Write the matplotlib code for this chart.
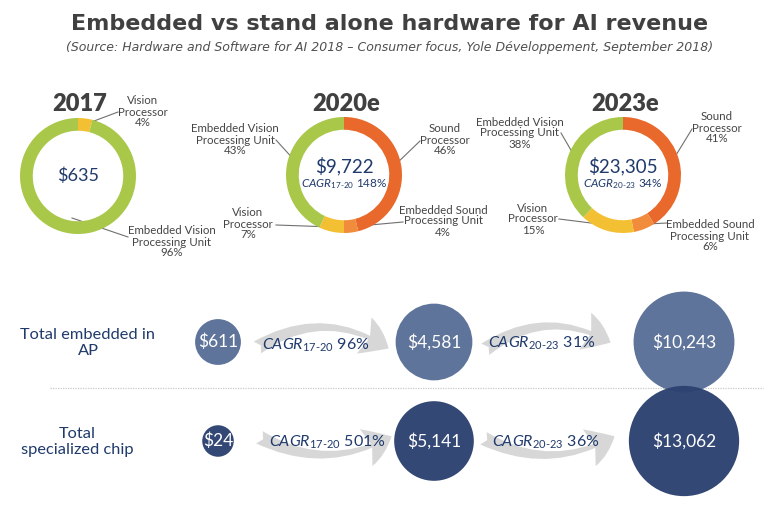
"""Embedded vs stand alone hardware for AI revenue (Yole, 2018)."""
import matplotlib

matplotlib.use("Agg")
import matplotlib.pyplot as plt
from matplotlib.patches import Circle, FancyArrowPatch

# ---- data ---------------------------------------------------------------
years = ["2017", "2020e", "2023e"]
totals = [635, 9722, 23305]
total_cagr = [None, 148, 34]
periods = ["17-20", "20-23"]

segments = [
    "Sound\nProcessor",
    "Embedded Sound\nProcessing Unit",
    "Vision\nProcessor",
    "Embedded Vision\nProcessing Unit",
]
share_2017 = [0, 0, 4, 96]
share_2020 = [46, 4, 7, 43]
share_2023 = [41, 6, 15, 38]
shares = [share_2017, share_2020, share_2023]

row_labels = ["Total embedded in\nAP", "Total\nspecialized chip"]
embedded_ap = [611, 4581, 10243]
specialized_chip = [24, 5141, 13062]
cagr_ap = [96, 31]
cagr_chip = [501, 36]

# ---- styling / layout (pixels, y down) ------------------------------------
W, H = 773, 508
seg_colors = ["#e8692b", "#f08c3c", "#f4c033", "#a9c84a"]
navy = "#1f3a6b"
row_colors = ["#5a6f97", "#2d4270"]
arrow_color = "#d7d7d7"
label_gray = "#454545"

donut_centers = [(78, 176), (344, 175), (623, 175)]
donut_r = 58
# per donut, per segment: (text x, text y, line start, line end)
donut_labels = [
    {2: (143, 112, (86, 124), (118, 112)),
     3: (172, 242, (72, 218), (128, 237))},
    {0: (445, 140, (394, 166), (420, 141)),
     1: (443, 221, (348, 227), (403, 222)),
     2: (248, 224, (333, 227), (276, 225)),
     3: (235, 140, (296, 162), (276, 140))},
    {0: (717, 128, (673, 160), (692, 129)),
     1: (710, 236, (647, 224), (667, 223)),
     2: (533, 219, (607, 225), (559, 219)),
     3: (520, 133, (575, 157), (561, 133))},
]

bubble_x = [218, 434, 684]
row_y = [342, 441]
row_label_pos = [(88, 343), (77, 442)]
arrows = [
    [((255, 349), (391, 350), -0.33), ((483, 351), (613, 344), -0.33)],
    [((257, 436), (394, 435), 0.28), ((481, 437), (617, 435), 0.28)],
]
cagr_text_pos = [[(316, 345), (542, 343)], [(327, 442), (546, 442)]]


def bubble_radius(value):
    return 14 + 0.36 * value ** 0.5


plt.rcParams["font.family"] = ["Lato", "DejaVu Sans"]
plt.rcParams["mathtext.fontset"] = "custom"
plt.rcParams["mathtext.it"] = "Lato:italic"
plt.rcParams["mathtext.rm"] = "Lato"
plt.rcParams["mathtext.default"] = "it"


def cagr_label(period, value):
    a, b = period.split("-")
    return rf"$CAGR_{{{a}\text{{-}}{b}}}$ {value}%"


fig = plt.figure(figsize=(W / 100, H / 100), dpi=100)
ax = fig.add_axes([0, 0, 1, 1])
ax.set_xlim(0, W)
ax.set_ylim(H, 0)
ax.axis("off")

# title
ax.text(W / 2 + 3, 24, "Embedded vs stand alone hardware for AI revenue",
        ha="center", va="center", fontsize=16, fontweight="bold",
        color="#404040", family="DejaVu Sans")
ax.text(W / 2 + 3, 48,
        "(Source: Hardware and Software for AI 2018 \u2013 Consumer focus, "
        "Yole D\u00e9veloppement, September 2018)",
        ha="center", va="center", fontsize=9, style="italic",
        color="#505050", family="DejaVu Sans")

# donuts
for i, (cx, cy) in enumerate(donut_centers):
    dax = fig.add_axes([(cx - donut_r) / W, 1 - (cy + donut_r) / H,
                        2 * donut_r / W, 2 * donut_r / H])
    vals = [v for v in shares[i] if v > 0]
    cols = [c for v, c in zip(shares[i], seg_colors) if v > 0]
    dax.pie(vals, colors=cols, startangle=90, counterclock=False, radius=1,
            wedgeprops=dict(width=0.22, linewidth=0))
    dax.set_xlim(-1, 1)
    dax.set_ylim(-1, 1)
    dax.axis("off")

    ax.text(cx + 2, 104, years[i], ha="center", va="center", fontsize=17,
            fontweight="heavy", color="#404040")
    if total_cagr[i] is None:
        ax.text(cx, cy, f"${totals[i]:,}", ha="center", va="center",
                fontsize=13, color=navy)
    else:
        ax.text(cx, cy - 9, f"${totals[i]:,}", ha="center", va="center",
                fontsize=13.5, color=navy)
        ax.text(cx, cy + 9, cagr_label(periods[i - 1], total_cagr[i]),
                ha="center", va="center", fontsize=8.5, color=navy)
    for seg, (tx, ty, p0, p1) in donut_labels[i].items():
        ax.text(tx, ty, f"{segments[seg]}\n{shares[i][seg]}%", ha="center",
                va="center", fontsize=8.3, color=label_gray, linespacing=1.0)
        ax.plot([p0[0], p1[0]], [p0[1], p1[1]], color="#707070", lw=0.8)

# separator
ax.plot([50, 763], [388, 388], color="#c8c8c8", lw=0.9, ls=(0, (1, 1)))

# bubble rows
for r, values in enumerate([embedded_ap, specialized_chip]):
    lx, ly = row_label_pos[r]
    ax.text(lx, ly, row_labels[r], ha="center", va="center", fontsize=11.8,
            color=navy, linespacing=1.2)
    for j, (p0, p1, rad) in enumerate(arrows[r]):
        ax.add_patch(FancyArrowPatch(
            p0, p1, connectionstyle=f"arc3,rad={rad}",
            arrowstyle="fancy,head_length=2.0,head_width=2.8,tail_width=1.0",
            mutation_scale=10, color=arrow_color, lw=0, zorder=2))
        cagr = [cagr_ap, cagr_chip][r][j]
        tx, ty = cagr_text_pos[r][j]
        ax.text(tx, ty, cagr_label(periods[j], cagr), ha="center",
                va="center", fontsize=11.5, color=navy, zorder=3)
    for j, v in enumerate(values):
        ax.add_patch(Circle((bubble_x[j], row_y[r]), bubble_radius(v),
                            color=row_colors[r], lw=0, zorder=4, alpha=0.97))
        ax.text(bubble_x[j], row_y[r], f"${v:,}", ha="center", va="center",
                fontsize=12.5, color="white", zorder=5)

fig.savefig("out.png", dpi=100, facecolor="white")
